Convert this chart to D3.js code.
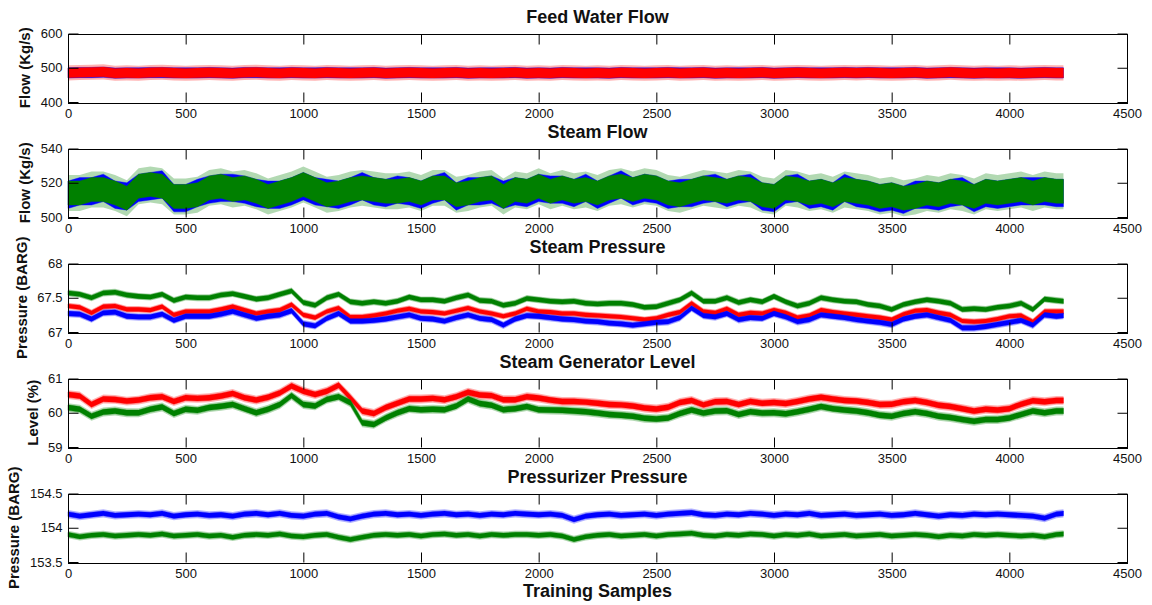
<!DOCTYPE html>
<html>
<head>
<meta charset="utf-8">
<script src="https://cdn.jsdelivr.net/npm/d3@7/dist/d3.min.js"></script>
<style>
  html, body { margin: 0; padding: 0; background: #fff; }
  svg { display: block; }
  text { font-family: "Liberation Sans", Arial, sans-serif; fill: #111; }
</style>
</head>
<body>
<svg id="chart" width="1152" height="605"></svg>
<script>
// ---------------- DATA ----------------
// sample index grid (every 50 training samples, last sample 4230)
const sampleIdx = d3.range(0, 4201, 50).concat([4230]);

const titles = ["Feed Water Flow", "Steam Flow", "Steam Pressure", "Steam Generator Level", "Pressurizer Pressure"];
const yLabels = ["Flow (Kg/s)", "Flow (Kg/s)", "Pressure (BARG)", "Level (%)", "Pressure (BARG)"];
const yDomains = [[400, 600], [500, 540], [67, 68], [59, 61], [153.5, 154.5]];
const yTicks = [[400, 500, 600], [500, 520, 540], [67, 67.5, 68], [59, 60, 61], [153.5, 154, 154.5]];
const xTicks = [0, 500, 1000, 1500, 2000, 2500, 3000, 3500, 4000, 4500];
const xLabel = "Training Samples";

// Feed Water Flow
const feedBlue = [
  485,486,486,487,484,485,485,486,486,485,
  485,485,486,485,484,486,486,485,485,486,
  485,485,486,485,485,485,486,484,485,486,
  485,485,485,486,484,485,485,485,486,484,
  485,484,486,485,485,485,484,486,485,485,
  485,486,485,485,486,484,485,485,485,486,
  484,485,486,485,485,485,486,485,486,485,
  485,485,486,484,485,486,485,484,485,485,
  485,484,485,486,485,485];
const feedRed = [
  485,486,487,488,484,485,484,486,487,485,
  484,485,486,485,484,486,487,485,484,486,
  485,484,486,485,484,485,486,484,485,486,
  485,484,485,486,484,485,484,485,486,484,
  485,484,486,485,484,485,484,486,485,484,
  485,486,484,485,486,484,485,484,485,486,
  484,485,486,485,484,485,486,485,486,485,
  484,485,486,484,485,487,485,484,485,484,
  485,484,485,486,485,485];

// Steam Flow
const steamFlowBlue = [
  513,515,515,517,513,512,517,518,519,511,
  511,514,516,517,517,516,514,513,513,515,
  518,515,514,513,515,518,515,514,516,515,
  513,516,518,512,515,515,516,513,515,514,
  517,516,516,514,517,513,516,519,515,517,
  516,513,514,514,516,517,514,516,517,512,
  511,516,517,513,514,512,517,514,513,511,
  512,510,513,513,512,514,515,511,514,513,
  514,515,515,515,514,514];
const steamFlowGreen = [
  514,514,516,516,514,511,518,519,518,512,
  512,513,517,518,516,517,515,512,514,516,
  519,516,513,514,516,517,516,515,515,516,
  514,517,517,513,514,516,517,512,516,515,
  518,515,517,515,516,514,517,518,516,518,
  517,514,513,515,517,516,515,517,516,513,
  512,517,516,514,515,513,516,515,514,512,
  513,511,512,514,513,515,514,512,515,514,
  515,516,514,516,515,515];

// Steam Pressure
const steamPresGreen = [
  67.57,67.55,67.50,67.57,67.58,67.54,67.52,67.51,67.55,67.46,
  67.51,67.50,67.50,67.54,67.56,67.52,67.48,67.50,67.55,67.60,
  67.43,67.39,67.50,67.55,67.44,67.42,67.44,67.42,67.45,67.51,
  67.47,67.47,67.45,67.50,67.54,67.46,67.45,67.39,67.42,67.49,
  67.47,67.45,67.44,67.45,67.42,67.41,67.42,67.42,67.40,67.36,
  67.37,67.42,67.47,67.57,67.45,67.45,67.50,67.43,67.47,67.44,
  67.52,67.44,67.38,67.42,67.50,67.47,67.45,67.44,67.40,67.38,
  67.33,67.40,67.44,67.47,67.45,67.42,67.33,67.34,67.33,67.36,
  67.38,67.42,67.33,67.48,67.46,67.45];
const steamPresRed = [
  67.38,67.36,67.28,67.37,67.38,67.33,67.33,67.32,67.37,67.25,
  67.30,67.30,67.30,67.33,67.37,67.32,67.27,67.30,67.32,67.40,
  67.25,67.21,67.30,67.35,67.22,67.22,67.24,67.27,67.31,67.34,
  67.30,67.29,67.27,67.31,67.35,67.30,67.27,67.23,67.27,67.34,
  67.30,67.29,67.27,67.27,67.25,67.24,67.23,67.22,67.20,67.18,
  67.20,67.25,67.29,67.42,67.30,67.28,67.34,67.25,67.28,67.27,
  67.32,67.28,67.21,67.24,67.32,67.29,67.27,67.25,67.23,67.21,
  67.18,67.26,67.31,67.32,67.28,67.25,67.16,67.15,67.16,67.19,
  67.23,67.24,67.15,67.30,67.30,67.30];
const steamPresBlue = [
  67.27,67.26,67.19,67.28,67.29,67.23,67.22,67.22,67.26,67.17,
  67.23,67.23,67.23,67.26,67.30,67.25,67.20,67.23,67.25,67.31,
  67.12,67.09,67.20,67.27,67.16,67.16,67.17,67.19,67.22,67.25,
  67.20,67.19,67.16,67.21,67.25,67.20,67.18,67.10,67.19,67.24,
  67.23,67.21,67.19,67.18,67.16,67.15,67.13,67.12,67.10,67.12,
  67.14,67.15,67.21,67.35,67.24,67.22,67.27,67.18,67.21,67.20,
  67.27,67.22,67.15,67.18,67.25,67.23,67.21,67.18,67.16,67.14,
  67.11,67.19,67.23,67.25,67.21,67.17,67.06,67.06,67.08,67.11,
  67.14,67.17,67.10,67.25,67.23,67.24];

// Steam Generator Level
const levelRed = [
  60.53,60.49,60.24,60.40,60.39,60.34,60.37,60.44,60.47,60.33,
  60.44,60.42,60.44,60.49,60.56,60.44,60.37,60.45,60.58,60.78,
  60.63,60.53,60.63,60.80,60.44,60.05,59.98,60.15,60.28,60.40,
  60.40,60.42,60.38,60.47,60.60,60.52,60.50,60.38,60.38,60.47,
  60.43,60.37,60.33,60.33,60.31,60.28,60.24,60.23,60.20,60.14,
  60.11,60.16,60.30,60.36,60.23,60.32,60.33,60.24,60.33,60.28,
  60.30,60.27,60.33,60.40,60.45,60.40,60.36,60.34,60.30,60.24,
  60.25,60.32,60.36,60.30,60.22,60.18,60.12,60.05,60.10,60.08,
  60.12,60.25,60.35,60.32,60.36,60.36];
const levelGreen = [
  60.15,60.10,59.90,60.02,60.05,60.00,60.00,60.10,60.17,59.98,
  60.10,60.07,60.15,60.19,60.24,60.12,60.00,60.10,60.24,60.50,
  60.24,60.20,60.39,60.47,60.29,59.71,59.66,59.85,60.00,60.12,
  60.09,60.10,60.09,60.20,60.40,60.27,60.22,60.09,60.12,60.18,
  60.09,60.08,60.07,60.05,60.03,59.99,59.95,59.93,59.90,59.84,
  59.82,59.85,59.98,60.08,59.99,60.05,60.06,59.95,60.03,59.99,
  60.00,59.97,60.03,60.10,60.18,60.12,60.08,60.05,60.00,59.93,
  59.90,59.98,60.03,59.98,59.90,59.86,59.80,59.75,59.80,59.80,
  59.85,59.95,60.05,60.00,60.05,60.05];

// Pressurizer Pressure
const przBlue = [
  154.20,154.17,154.19,154.21,154.18,154.19,154.20,154.19,154.21,154.17,
  154.19,154.20,154.18,154.19,154.17,154.20,154.21,154.19,154.21,154.18,
  154.17,154.20,154.21,154.16,154.13,154.17,154.20,154.21,154.19,154.20,
  154.18,154.20,154.21,154.19,154.20,154.18,154.20,154.19,154.21,154.20,
  154.19,154.20,154.18,154.12,154.17,154.19,154.20,154.18,154.19,154.20,
  154.18,154.20,154.21,154.22,154.19,154.18,154.20,154.19,154.21,154.20,
  154.18,154.20,154.19,154.21,154.18,154.19,154.20,154.18,154.19,154.20,
  154.18,154.19,154.21,154.19,154.17,154.19,154.18,154.20,154.19,154.20,
  154.19,154.18,154.17,154.14,154.20,154.21];
const przGreen = [
  153.90,153.87,153.89,153.90,153.88,153.89,153.90,153.89,153.91,153.88,
  153.89,153.90,153.88,153.89,153.86,153.89,153.90,153.89,153.91,153.88,
  153.87,153.89,153.90,153.86,153.83,153.86,153.89,153.90,153.89,153.90,
  153.88,153.90,153.91,153.89,153.90,153.88,153.90,153.89,153.90,153.90,
  153.89,153.90,153.88,153.83,153.87,153.89,153.90,153.88,153.89,153.90,
  153.88,153.90,153.91,153.92,153.89,153.88,153.90,153.89,153.91,153.90,
  153.88,153.90,153.89,153.91,153.88,153.89,153.90,153.88,153.89,153.90,
  153.88,153.89,153.90,153.89,153.87,153.89,153.88,153.90,153.89,153.90,
  153.89,153.88,153.89,153.87,153.90,153.91];

// noise band of each series: [core half-width, outer (spike) half-width]
const bandFeed = [[15, 15], [14, 22]];
const bandSteamFlow = [[8, 8], [7, 10.5]];
const bandSteamPres = [[0.033, 0.05], [0.03, 0.048], [0.035, 0.055]];
const bandLevel = [[0.08, 0.13], [0.08, 0.13]];
const bandPrz = [[0.035, 0.06], [0.033, 0.055]];

// ---------------- CHART ----------------
const BLUE = "#0000ff", RED = "#ff0000", GREEN = "#008000";
const panels = [
  { series: [{ v: feedBlue, c: BLUE, w: bandFeed[0] }, { v: feedRed, c: RED, w: bandFeed[1] }] },
  { series: [{ v: steamFlowBlue, c: BLUE, w: bandSteamFlow[0] }, { v: steamFlowGreen, c: GREEN, w: bandSteamFlow[1] }] },
  { series: [{ v: steamPresGreen, c: GREEN, w: bandSteamPres[0] }, { v: steamPresRed, c: RED, w: bandSteamPres[1] }, { v: steamPresBlue, c: BLUE, w: bandSteamPres[2] }] },
  { series: [{ v: levelRed, c: RED, w: bandLevel[0] }, { v: levelGreen, c: GREEN, w: bandLevel[1] }] },
  { series: [{ v: przBlue, c: BLUE, w: bandPrz[0] }, { v: przGreen, c: GREEN, w: bandPrz[1] }] }
];

const svg = d3.select("#chart");
const left = 68, right = 1127, top0 = 33.5, step = 115, ph = 68.5;
const x = d3.scaleLinear().domain([0, 4500]).range([left, right]);
const fontF = '"Liberation Sans", Arial, sans-serif';

panels.forEach((p, i) => {
  const t = top0 + i * step;
  const y = d3.scaleLinear().domain(yDomains[i]).range([t + ph, t]);
  const g = svg.append("g");

  const bandArea = (w) => d3.area()
    .x((d, j) => x(sampleIdx[j]))
    .y0(d => y(d - w))
    .y1(d => y(d + w));

  // light outer fringe (spikes) of every series
  p.series.forEach(s => {
    if (s.w[1] <= s.w[0]) return;
    g.append("path")
      .datum(s.v)
      .attr("d", bandArea(s.w[1]))
      .attr("fill", s.c)
      .attr("fill-opacity", 0.3)
      .attr("stroke", "none");
  });
  // solid cores
  p.series.forEach(s => {
    g.append("path")
      .datum(s.v)
      .attr("d", bandArea(s.w[0]))
      .attr("fill", s.c)
      .attr("stroke", s.c)
      .attr("stroke-width", 0.8)
      .attr("stroke-opacity", 0.5)
      .attr("stroke-linejoin", "round");
  });

  // box
  g.append("rect")
    .attr("x", left + 0.5).attr("y", Math.round(t) + 0.5)
    .attr("width", right - left).attr("height", Math.round(ph))
    .attr("fill", "none").attr("stroke", "#000").attr("stroke-width", 1);

  const styleAxis = sel => {
    sel.select(".domain").remove();
    sel.selectAll(".tick line").attr("stroke", "#000");
    sel.selectAll("text").style("font-family", fontF).style("font-size", "13px").attr("fill", "#111");
  };

  // bottom axis with labels
  g.append("g")
    .attr("transform", `translate(0,${Math.round(t + ph) + 0.5})`)
    .call(d3.axisBottom(x).tickValues(xTicks).tickSize(-10).tickPadding(6).tickFormat(d3.format("d")))
    .call(styleAxis);
  // top ticks
  g.append("g")
    .attr("transform", `translate(0,${Math.round(t) + 0.5})`)
    .call(d3.axisTop(x).tickValues(xTicks).tickSize(-10).tickFormat(""))
    .call(styleAxis);
  // left axis with labels
  const yl = g.append("g")
    .attr("transform", `translate(${left + 0.5},0)`)
    .call(d3.axisLeft(y).tickValues(yTicks[i]).tickSize(-10).tickPadding(6).tickFormat(d => String(d)))
    .call(styleAxis);
  // right ticks
  g.append("g")
    .attr("transform", `translate(${right + 0.5},0)`)
    .call(d3.axisRight(y).tickValues(yTicks[i]).tickSize(-10).tickFormat(""))
    .call(styleAxis);

  // y label position from widest tick label
  let maxW = 0;
  yl.selectAll("text").each(function () { maxW = Math.max(maxW, this.getComputedTextLength()); });
  const lx = left - 6 - maxW - 10;
  g.append("text")
    .attr("transform", `translate(${lx},${t + ph / 2}) rotate(-90)`)
    .attr("text-anchor", "middle")
    .style("font-family", fontF).style("font-size", "15px").style("font-weight", "bold")
    .text(yLabels[i]);

  // title
  g.append("text")
    .attr("x", (left + right) / 2).attr("y", t - 11)
    .attr("text-anchor", "middle")
    .style("font-family", fontF).style("font-size", "18px").style("font-weight", "bold")
    .text(titles[i]);
});

svg.append("text")
  .attr("x", (left + right) / 2).attr("y", 597)
  .attr("text-anchor", "middle")
  .style("font-family", fontF).style("font-size", "18px").style("font-weight", "bold")
  .text(xLabel);
</script>
</body>
</html>
